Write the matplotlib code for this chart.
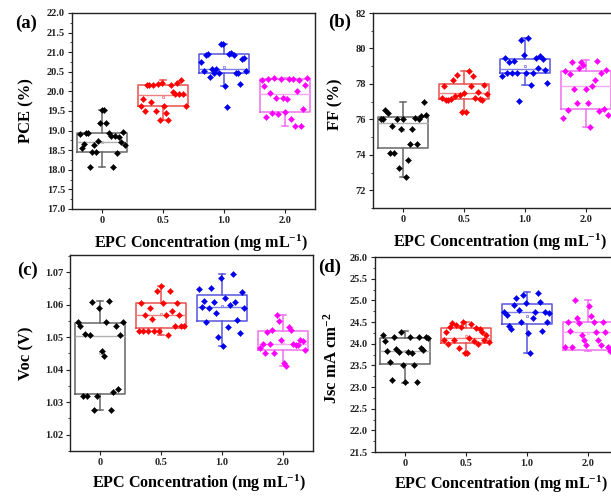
import numpy as np
import matplotlib
matplotlib.use("Agg")
import matplotlib.pyplot as plt

plt.rcParams['font.family'] = ['Liberation Serif', 'DejaVu Serif']
plt.rcParams['font.weight'] = 'bold'
plt.rcParams['mathtext.fontset'] = 'custom'
plt.rcParams['mathtext.rm'] = 'Liberation Serif:bold'
plt.rcParams['mathtext.bf'] = 'Liberation Serif:bold'
plt.rcParams['mathtext.default'] = 'bf'

# ---------------- data ----------------
categories = ['0', '0.5', '1.0', '2.0']

# PCE (%) points (listed left -> right within each group)
pce_0 = [18.92, 18.56, 18.66, 18.94, 18.94, 18.06, 18.45, 18.62, 18.45, 18.73, 19.19, 19.53,
         19.53, 19.19, 18.94, 18.85, 18.06, 18.85, 18.43, 18.83, 18.70, 18.96, 18.62]
pce_05 = [19.62, 19.80, 19.51, 20.16, 20.17, 19.73, 20.16, 19.50, 20.19, 19.28, 20.21, 19.62,
          19.46, 19.28, 20.16, 19.98, 19.93, 20.22, 19.93, 20.28, 19.93, 19.62]
pce_10 = [20.75, 20.53, 20.93, 20.96, 20.36, 20.56, 20.48, 20.58, 20.47, 21.20, 21.20, 20.14,
          19.61, 20.96, 20.97, 20.93, 20.46, 20.47, 20.18, 20.82, 20.86, 20.53]
pce_20 = [20.29, 20.15, 19.34, 20.31, 19.95, 19.45, 20.33, 19.82, 19.42, 20.31, 19.82, 19.48,
          19.80, 20.32, 19.29, 20.31, 19.12, 20.00, 20.29, 19.12, 19.55, 20.17, 20.35]
# box stats: q1, median, q3, whisker low, whisker high, mean
pce_q1 = [18.45, 19.62, 20.47, 19.47]
pce_med = [18.70, 19.90, 20.57, 19.93]
pce_q3 = [18.94, 20.155, 20.95, 20.32]
pce_lo = [18.06, 19.28, 20.14, 19.12]
pce_hi = [19.53, 20.29, 21.22, 20.35]
pce_mean = [18.72, 19.85, 20.62, 19.86]

# FF (%)
ff_0 = [76.02, 76.02, 76.53, 76.34, 74.11, 75.62, 74.11, 76.02, 73.23, 75.43, 76.02, 72.75,
        73.70, 74.59, 75.43, 76.10, 74.59, 76.02, 76.21, 77.00, 76.25]
ff_05 = [77.22, 77.90, 77.07, 77.07, 77.15, 78.23, 77.30, 78.51, 77.40, 76.43, 77.48, 76.43,
         78.75, 77.87, 78.47, 77.20, 77.52, 77.15, 77.07, 77.93, 77.45]
ff_10 = [78.45, 79.45, 78.64, 79.26, 78.64, 79.30, 78.64, 77.05, 80.49, 79.64, 78.64, 80.59,
         77.94, 78.64, 79.45, 78.89, 79.57, 79.41, 78.80, 78.04]
ff_20 = [76.06, 78.73, 76.53, 78.55, 79.23, 77.70, 76.94, 78.90, 79.23, 79.06, 77.70, 76.94,
         75.58, 77.90, 78.23, 79.30, 76.50, 78.60, 76.60, 78.77, 76.27]
ff_q1 = [74.36, 77.13, 78.60, 76.58]
ff_med = [75.81, 77.51, 78.85, 77.89]
ff_q3 = [76.11, 77.98, 79.40, 78.75]
ff_lo = [72.75, 76.43, 77.94, 75.58]
ff_hi = [76.96, 78.75, 80.59, 79.35]
ff_mean = [75.40, 77.50, 79.00, 77.80]

# Voc (V)
voc_0 = [1.0546, 1.0535, 1.0320, 1.0510, 1.0320, 1.0507, 1.0607, 1.0275, 1.0320, 1.0591,
         1.0458, 1.0443, 1.0546, 1.0612, 1.0275, 1.0330, 1.0535, 1.0340, 1.0507, 1.0546]
voc_05 = [1.0518, 1.0605, 1.0518, 1.0569, 1.0518, 1.0589, 1.0556, 1.0518, 1.0643, 1.0520,
          1.0658, 1.0605, 1.0567, 1.0507, 1.0643, 1.0581, 1.0535, 1.0605, 1.0567, 1.0535, 1.0535]
voc_10 = [1.0648, 1.0594, 1.0612, 1.0548, 1.0589, 1.0653, 1.0607, 1.0576, 1.0502, 1.0683,
          1.0473, 1.0622, 1.0530, 1.0600, 1.0695, 1.0607, 1.0553, 1.0513, 1.0638, 1.0589]
voc_20 = [1.0466, 1.0480, 1.0453, 1.0515, 1.0480, 1.0523, 1.0451, 1.0569, 1.0550, 1.0492,
          1.0420, 1.0412, 1.0531, 1.0521, 1.0480, 1.0475, 1.0476, 1.0491, 1.0487, 1.0462]
voc_q1 = [1.0326, 1.0528, 1.0550, 1.0461]
voc_med = [1.0505, 1.0569, 1.0592, 1.0479]
voc_q3 = [1.0545, 1.0605, 1.0630, 1.0520]
voc_lo = [1.0275, 1.0507, 1.0473, 1.0412]
voc_hi = [1.0610, 1.0658, 1.0695, 1.0569]
voc_mean = [1.0450, 1.0570, 1.0595, 1.0485]

# Jsc (mA cm-2)
jsc_0 = [24.19, 24.06, 23.83, 23.58, 23.16, 24.15, 23.87, 23.80, 24.28, 23.51, 23.12, 23.80,
         24.15, 23.79, 23.51, 23.12, 24.15, 23.90, 23.85, 24.15, 24.14]
jsc_05 = [24.09, 24.28, 24.00, 24.38, 24.48, 24.09, 24.42, 23.89, 24.38, 24.50, 23.78, 23.78,
          24.12, 24.45, 24.06, 24.36, 24.00, 24.33, 24.26, 24.09, 24.21, 24.03]
jsc_10 = [24.73, 24.66, 24.41, 24.33, 24.90, 25.05, 24.78, 24.49, 25.13, 24.94, 24.24, 23.79,
          24.59, 24.73, 25.17, 24.97, 24.29, 24.74, 24.49, 24.71]
jsc_20 = [23.93, 24.51, 24.30, 23.93, 25.00, 24.59, 24.47, 24.20, 24.09, 23.97, 24.86, 24.65,
          24.51, 24.28, 24.09, 23.97, 24.51, 24.28, 23.93, 23.84]
jsc_q1 = [23.52, 24.01, 24.46, 23.85]
jsc_med = [23.82, 24.12, 24.72, 24.26]
jsc_q3 = [24.12, 24.36, 24.91, 24.51]
jsc_lo = [23.10, 23.78, 23.78, 23.82]
jsc_hi = [24.29, 24.51, 25.20, 25.01]
jsc_mean = [23.82, 24.18, 24.65, 24.25]

# ---------------- styles ----------------
pt_colors = ['#000000', '#ff0000', '#0000ee', '#ff00ff']
box_colors = ['#666666', '#e85050', '#5555dd', '#f070f0']
med_colors = ['#b0b0b0', '#f08080', '#8080e8', '#f4a8f4']

W, H = 611, 496
fig = plt.figure(figsize=(W / 100, H / 100), dpi=100)
fig.patch.set_facecolor('white')


def px_rect(left, top, width, height):
    return [left / W, 1 - (top + height) / H, width / W, height / H]


panels = [
    dict(rect=px_rect(72, 13, 243, 196), groups=[pce_0, pce_05, pce_10, pce_20],
         q1=pce_q1, med=pce_med, q3=pce_q3, lo=pce_lo, hi=pce_hi, mean=pce_mean,
         ylim=(17.0, 22.0), major=0.5, minor=0.25, fmt='{:.1f}', ylabel='PCE (%)',
         ylc=(-0.155, 0.5), xlc=(0.53, -0.12), tag='(a)', tagpos=(26, 23)),
    dict(rect=px_rect(373, 13, 243, 195), groups=[ff_0, ff_05, ff_10, ff_20],
         q1=ff_q1, med=ff_med, q3=ff_q3, lo=ff_lo, hi=ff_hi, mean=ff_mean,
         ylim=(71.0, 82.0), major=2, minor=1, fmt='{:.0f}', ylabel='FF (%)',
         ylc=(-0.122, 0.53), xlc=(0.522, -0.12), tag='(b)', tagpos=(340, 22)),
    dict(rect=px_rect(70, 255, 243, 196), groups=[voc_0, voc_05, voc_10, voc_20],
         q1=voc_q1, med=voc_med, q3=voc_q3, lo=voc_lo, hi=voc_hi, mean=voc_mean,
         ylim=(1.015, 1.0753), major=0.01, minor=0.005, fmt='{:.2f}', ylabel='Voc (V)',
         ylc=(-0.147, 0.5), xlc=(0.533, -0.11), tag='(c)', tagpos=(28, 270)),
    dict(rect=px_rect(375, 257, 243, 195), groups=[jsc_0, jsc_05, jsc_10, jsc_20],
         q1=jsc_q1, med=jsc_med, q3=jsc_q3, lo=jsc_lo, hi=jsc_hi, mean=jsc_mean,
         ylim=(21.5, 26.0), major=0.5, minor=0.25, fmt='{:.1f}',
         ylabel=r'Jsc mA cm$^{-2}$',
         ylc=(-0.14, 0.48), xlc=(0.52, -0.112), tag='(d)', tagpos=(330, 267)),
]

positions = np.arange(1, len(categories) + 1)

for p in panels:
    ax = fig.add_axes(p['rect'])
    for i, pos in enumerate(positions):
        stats = [dict(q1=p['q1'][i], med=p['med'][i], q3=p['q3'][i],
                      whislo=p['lo'][i], whishi=p['hi'][i], mean=p['mean'][i],
                      fliers=[], label=categories[i])]
        bc = box_colors[i]
        ax.bxp(stats, positions=[pos], widths=0.82, showfliers=False, showmeans=True,
               capwidths=0.1,
               boxprops=dict(color=bc, linewidth=1.1),
               whiskerprops=dict(color=bc, linewidth=1.1),
               capprops=dict(color=bc, linewidth=1.1),
               medianprops=dict(color=med_colors[i], linewidth=1.0),
               meanprops=dict(marker='s', markersize=2, markerfacecolor='none',
                              markeredgecolor=med_colors[i], markeredgewidth=0.6),
               manage_ticks=False)
        vals = np.asarray(p['groups'][i])
        offs = np.linspace(-0.37, 0.37, len(vals))
        ax.plot(pos + offs, vals, linestyle='none', marker='D', markersize=3.1,
                color=pt_colors[i], markeredgewidth=0.3, zorder=5)

    ax.set_xlim(0.5, 4.5)
    ax.set_ylim(*p['ylim'])
    ax.set_xticks(positions)
    ax.set_xticklabels(categories)
    lo_, hi_ = p['ylim']
    maj = np.arange(np.ceil(lo_ / p['major'] - 1e-9) * p['major'], hi_ + 1e-9, p['major'])
    ax.set_yticks(maj)
    ax.set_yticklabels([p['fmt'].format(v) for v in maj])
    mnr = np.arange(np.ceil(lo_ / p['minor'] - 1e-9) * p['minor'], hi_ + 1e-9, p['minor'])
    ax.set_yticks(mnr, minor=True)
    ax.tick_params(axis='both', which='major', direction='out', length=3, width=0.8,
                   labelsize=7.5, pad=2, colors='#222222')
    ax.tick_params(axis='y', which='minor', direction='out', length=1.8, width=0.6,
                   colors='#222222')
    ax.tick_params(axis='x', which='minor', bottom=False)
    for lab in ax.get_xticklabels() + ax.get_yticklabels():
        lab.set_fontweight('bold')
    for s in ax.spines.values():
        s.set_linewidth(1.0)
        s.set_color('#222222')
    ax.set_ylabel(p['ylabel'], fontsize=12, fontweight='bold')
    ax.yaxis.set_label_coords(*p['ylc'])
    ax.set_xlabel(r'EPC Concentration (mg mL$^{-1}$)', fontsize=11.6, fontweight='bold')
    ax.xaxis.set_label_coords(*p['xlc'])
    ax.xaxis.label.set_va('top')
    fig.text(p['tagpos'][0] / W, 1 - p['tagpos'][1] / H, p['tag'], fontsize=13.5,
             fontweight='bold', ha='center', va='center')

fig.savefig('out.png', dpi=100, facecolor='white')
